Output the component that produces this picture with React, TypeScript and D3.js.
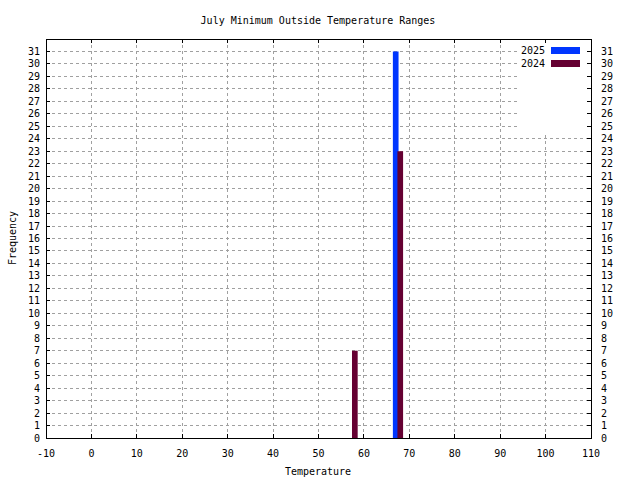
import React from "react";
import * as d3 from "d3";

const title = "July Minimum Outside Temperature Ranges";
const xLabel = "Temperature";
const yLabel = "Frequency";
const seriesNames = ["2025", "2024"];
const seriesColors = ["#0036ff", "#650032"];
const temps2025 = [67];
const counts2025 = [31];
const temps2024 = [58, 68];
const counts2024 = [7, 23];
const xTicks = [-10, 0, 10, 20, 30, 40, 50, 60, 70, 80, 90, 100, 110];
const yTicks = d3.range(0, 32);

export default function App() {
  const W = 640, H = 480;
  const L = 46, R = 591, T = 39, B = 438;
  const x = d3.scaleLinear().domain([-10, 110]).range([L, R]);
  const y = d3.scaleLinear().domain([0, 32]).range([B, T]);
  const bw = x(1.25) - x(0);
  const font = "'DejaVu Sans Mono', monospace";
  const fs = 10;
  const legendLeft = 520;
  const legendBottom = 133;
  const series = [
    { name: seriesNames[0], color: seriesColors[0], xs: temps2025, ys: counts2025 },
    { name: seriesNames[1], color: seriesColors[1], xs: temps2024, ys: counts2024 },
  ];
  return (
    <svg width={W} height={H} style={{ position: "absolute", left: 0, top: 0, background: "#fff" }} fontFamily={font} fontSize={fs}>
      <rect x={0} y={0} width={W} height={H} fill="#fff" />
      {/* grid */}
      {yTicks.filter((t) => t > 0).map((t) => (
        <line key={"gy" + t} x1={L} x2={y(t) < legendBottom ? legendLeft : R} y1={y(t)} y2={y(t)} stroke="#a0a0a0" strokeDasharray="3,3" strokeWidth={1} shapeRendering="crispEdges" />
      ))}
      {xTicks.slice(1, -1).map((t) => (
        <line key={"gx" + t} x1={x(t)} x2={x(t)} y1={B} y2={x(t) > legendLeft ? legendBottom : T} stroke="#a0a0a0" strokeDasharray="3,3" strokeWidth={1} shapeRendering="crispEdges" />
      ))}
      {/* bars */}
      {series.map((s) =>
        s.xs.map((v, i) => (
          <rect key={s.name + i} x={x(v) - bw / 2} y={y(s.ys[i])} width={bw} height={B - y(s.ys[i])} fill={s.color} />
        ))
      )}
      {/* frame */}
      <rect x={L} y={T} width={R - L} height={B - T} fill="none" stroke="#000" strokeWidth={1} shapeRendering="crispEdges" />
      {/* y ticks */}
      {yTicks.map((t) => (
        <g key={"yt" + t}>
          <line x1={L} x2={L + 4} y1={y(t)} y2={y(t)} stroke="#000" shapeRendering="crispEdges" />
          <line x1={R} x2={R - 4} y1={y(t)} y2={y(t)} stroke="#000" shapeRendering="crispEdges" />
          <text x={L - 6} y={y(t)} dy="0.35em" textAnchor="end">{t}</text>
          <text x={R + 10} y={y(t)} dy="0.35em" textAnchor="start">{t}</text>
        </g>
      ))}
      {/* x ticks */}
      {xTicks.map((t) => (
        <g key={"xt" + t}>
          <line x1={x(t)} x2={x(t)} y1={B} y2={B - 4} stroke="#000" shapeRendering="crispEdges" />
          <line x1={x(t)} x2={x(t)} y1={T} y2={T + 4} stroke="#000" shapeRendering="crispEdges" />
          <text x={x(t)} y={B + 15} dy="0.35em" textAnchor="middle">{t}</text>
        </g>
      ))}
      {/* legend */}
      {series.map((s, i) => (
        <g key={"lg" + s.name}>
          <text x={545} y={50 + i * 13} dy="0.35em" textAnchor="end">{s.name}</text>
          <rect x={551} y={47 + i * 13} width={29} height={7} fill={s.color} />
        </g>
      ))}
      {/* labels */}
      <text x={318} y={20} dy="0.35em" textAnchor="middle">{title}</text>
      <text x={318} y={471} dy="0.35em" textAnchor="middle">{xLabel}</text>
      <text transform={`translate(12,238) rotate(-90)`} dy="0.35em" textAnchor="middle">{yLabel}</text>
    </svg>
  );
}
